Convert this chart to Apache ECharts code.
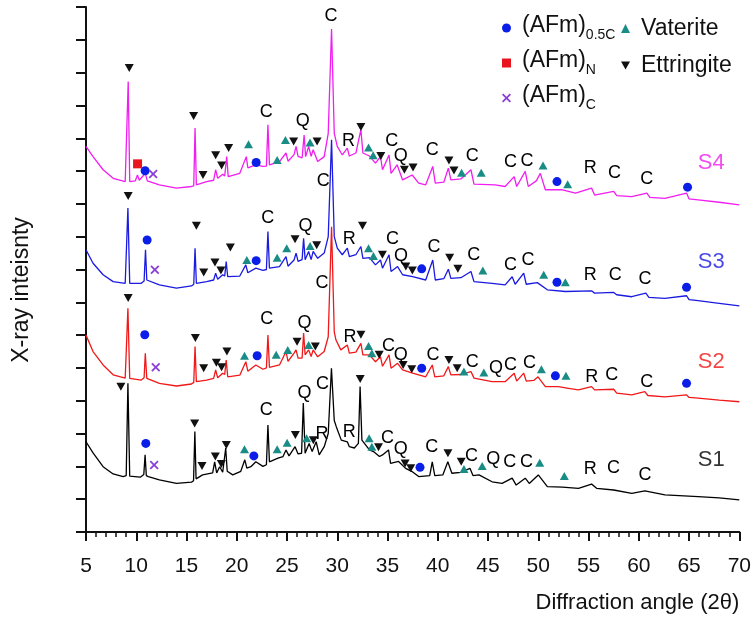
<!DOCTYPE html>
<html>
<head>
<meta charset="utf-8">
<script src="https://cdn.jsdelivr.net/npm/echarts@6.0.0/dist/echarts.min.js"></script>
<style>
  html, body { margin: 0; padding: 0; background: #fff; }
  #chart { width: 754px; height: 617px; }
</style>
</head>
<body>
<div id="chart"></div>
<script>
const FONT = '"Liberation Sans", Arial, sans-serif';

// diffraction angle axis
const angleMin = 5;
const angleMax = 70;
const angleStep = 5;
const intensityMax = 16;

// traces: [2theta, stacked intensity]
const s1Points = [[5.0,2.75],[5.7,2.41],[6.7,1.99],[7.7,1.77],[8.7,1.69],[9.0,1.72],[9.17,4.53],[9.35,1.70],[10.4,1.67],[10.75,1.75],[10.88,2.35],[11.0,1.72],[11.2,1.69],[12.3,1.59],[14.0,1.48],[15.5,1.52],[15.7,1.56],[15.83,3.06],[15.95,1.62],[16.6,1.74],[17.6,1.80],[17.8,2.14],[18.0,1.80],[18.3,1.99],[18.6,1.82],[18.9,2.56],[19.05,1.85],[19.6,1.74],[20.4,1.85],[20.8,2.2],[21.0,1.95],[21.4,1.99],[21.9,2.14],[22.6,2.0],[22.95,2.05],[23.1,3.26],[23.25,2.14],[24.1,2.25],[24.6,2.3],[24.9,2.5],[25.2,2.32],[25.8,2.6],[26.1,2.38],[26.45,2.4],[26.62,3.93],[26.8,2.4],[27.2,2.7],[27.5,2.45],[27.9,2.75],[28.2,2.35],[28.7,2.6],[29.1,3.0],[29.42,4.99],[29.7,3.4],[29.9,3.21],[30.4,2.8],[31.0,2.75],[31.2,2.6],[31.7,2.56],[32.1,2.7],[32.27,4.43],[32.45,2.8],[33.2,2.5],[33.6,2.45],[34.2,2.3],[34.5,2.35],[35.1,2.5],[35.3,2.09],[36.1,2.15],[36.8,1.94],[37.4,1.85],[38.1,1.69],[39.2,1.72],[39.45,2.14],[39.7,1.72],[40.5,1.74],[41.0,2.14],[41.4,1.79],[42.3,1.82],[43.2,1.94],[43.5,1.72],[44.1,1.74],[45.4,1.53],[46.4,1.48],[47.4,1.64],[47.8,1.43],[48.7,1.64],[49.1,1.48],[50.0,1.74],[50.9,1.38],[52.4,1.37],[54.0,1.33],[55.3,1.46],[55.8,1.33],[57.5,1.28],[59.3,1.18],[60.6,1.25],[62.6,1.13],[65.9,1.08],[68.0,1.04],[70.0,0.98]];
const s2Points = [[5.0,6.0],[5.7,5.5],[6.7,5.09],[7.7,4.79],[8.9,4.69],[9.05,4.72],[9.17,6.82],[9.35,4.68],[10.5,4.63],[10.78,4.7],[10.9,5.45],[11.05,4.68],[12.3,4.53],[14.0,4.45],[15.5,4.51],[15.72,4.56],[15.85,5.65],[15.98,4.58],[17.0,4.63],[17.7,4.68],[17.9,4.94],[18.1,4.7],[18.6,4.84],[18.8,4.8],[18.95,5.24],[19.1,4.73],[20.3,4.78],[20.9,5.19],[21.1,4.9],[21.9,5.09],[22.6,4.96],[22.95,5.0],[23.1,6.0],[23.25,5.02],[24.25,5.09],[24.9,5.5],[25.1,5.2],[25.7,5.45],[25.9,5.55],[26.1,5.3],[26.5,5.3],[26.65,6.06],[26.8,5.4],[27.15,5.55],[27.4,5.35],[27.6,5.55],[28.05,5.34],[28.7,5.5],[29.1,5.95],[29.43,9.3],[29.7,6.1],[29.87,5.85],[30.35,5.55],[31.0,5.7],[31.2,5.45],[31.85,5.48],[32.35,5.75],[32.55,5.4],[33.2,5.4],[33.8,5.19],[34.3,5.34],[34.5,5.05],[35.15,5.4],[35.35,4.99],[36.0,5.14],[36.5,4.94],[37.5,4.84],[38.8,4.73],[39.45,5.09],[39.7,4.73],[40.6,4.76],[41.05,5.04],[41.3,4.79],[42.3,4.8],[43.3,4.89],[43.6,4.69],[45.4,4.58],[46.7,4.58],[47.6,4.84],[47.85,4.6],[48.55,4.84],[48.8,4.6],[49.55,4.62],[49.97,4.73],[50.7,4.43],[52.0,4.43],[53.0,4.38],[54.0,4.33],[55.3,4.43],[55.6,4.33],[57.5,4.35],[57.8,4.23],[59.3,4.18],[60.6,4.28],[60.9,4.16],[62.6,4.12],[64.75,4.18],[65.0,4.1],[65.9,4.08],[68.0,4.02],[70.0,3.97]];
const s3Points = [[5.0,8.6],[5.7,8.19],[6.7,7.84],[7.7,7.63],[8.9,7.58],[9.05,7.6],[9.17,9.87],[9.35,7.58],[10.5,7.58],[10.78,7.65],[10.92,8.6],[11.05,7.68],[12.3,7.53],[14.0,7.43],[15.5,7.5],[15.72,7.55],[15.85,8.65],[15.98,7.58],[17.0,7.63],[17.7,7.68],[17.9,7.89],[18.1,7.7],[18.6,7.84],[18.8,7.8],[18.95,8.24],[19.1,7.78],[20.3,7.8],[20.9,8.14],[21.1,7.9],[21.9,8.04],[22.6,7.97],[22.95,8.0],[23.1,9.16],[23.25,8.04],[24.25,8.09],[24.9,8.39],[25.1,8.1],[25.7,8.29],[25.9,8.5],[26.1,8.25],[26.5,8.3],[26.65,8.95],[26.8,8.3],[27.15,8.55],[27.4,8.3],[27.6,8.55],[28.05,8.34],[28.7,8.5],[29.1,9.0],[29.43,11.95],[29.7,9.0],[30.0,8.65],[30.5,8.45],[31.0,8.65],[31.2,8.39],[31.85,8.45],[32.35,8.7],[32.55,8.34],[33.2,8.36],[33.8,8.14],[34.3,8.29],[34.5,8.04],[35.15,8.45],[35.35,7.94],[36.0,8.09],[36.5,7.84],[37.5,7.78],[38.8,7.68],[39.5,8.29],[39.75,7.68],[40.6,7.72],[41.05,8.01],[41.3,7.73],[42.3,7.75],[43.3,7.94],[43.6,7.63],[45.4,7.58],[46.7,7.53],[47.4,7.78],[47.7,7.55],[48.55,7.89],[48.8,7.55],[49.9,7.6],[50.9,7.38],[52.7,7.33],[55.3,7.35],[55.6,7.28],[57.5,7.3],[57.8,7.23],[59.3,7.17],[60.7,7.28],[61.0,7.15],[62.6,7.12],[64.75,7.2],[65.0,7.08],[65.9,7.05],[68.0,6.97],[70.0,6.89]];
const s4Points = [[5.0,11.75],[5.7,11.44],[6.7,11.04],[7.7,10.78],[8.9,10.68],[9.05,10.7],[9.2,13.73],[9.35,10.68],[9.9,10.7],[10.12,10.88],[10.3,10.72],[10.9,10.93],[11.1,10.7],[12.3,10.58],[14.0,10.48],[15.5,10.53],[15.72,10.55],[15.85,12.31],[15.98,10.58],[17.0,10.68],[17.7,10.72],[17.9,11.04],[18.1,10.78],[18.6,10.9],[18.8,10.85],[19.0,11.44],[19.15,10.83],[20.3,10.93],[20.95,11.44],[21.1,11.1],[21.9,11.19],[22.6,11.14],[22.95,11.15],[23.1,12.41],[23.25,11.19],[24.25,11.29],[24.9,11.55],[25.1,11.3],[25.7,11.5],[25.9,11.75],[26.1,11.45],[26.5,11.4],[26.7,12.1],[26.85,11.44],[27.15,11.75],[27.4,11.45],[27.6,11.65],[28.05,11.29],[28.7,11.44],[29.1,12.15],[29.43,15.33],[29.7,12.15],[30.0,11.75],[30.5,11.49],[31.0,11.7],[31.2,11.46],[31.85,11.55],[32.35,12.26],[32.55,11.55],[33.2,11.46],[33.8,11.24],[34.3,11.44],[34.5,11.04],[35.15,11.49],[35.35,10.93],[35.95,11.19],[36.5,10.73],[37.45,10.88],[38.1,10.63],[38.8,10.58],[39.5,11.14],[39.75,10.63],[40.6,10.66],[41.05,11.09],[41.3,10.73],[42.3,10.76],[43.3,11.04],[43.6,10.6],[45.7,10.58],[46.7,10.53],[47.6,10.83],[47.85,10.53],[48.7,10.99],[49.0,10.53],[49.8,10.7],[50.2,10.93],[50.7,10.43],[52.4,10.43],[53.7,10.33],[55.3,10.48],[55.6,10.27],[57.5,10.38],[57.8,10.25],[59.3,10.22],[60.8,10.33],[61.1,10.2],[62.6,10.17],[64.75,10.33],[65.0,10.15],[65.9,10.12],[68.0,10.05],[70.0,9.97]];

const sampleNames = ['S4', 'S3', 'S2', 'S1'];
const sampleLabelPos = [[67.2, 11.24], [67.2, 8.22], [67.2, 5.18], [67.2, 2.2]];

// phase markers
const ettringiteMarks = [
  [9.30,14.14],[15.71,12.68],[16.64,10.88],[17.90,11.48],[18.49,11.17],[19.19,11.70],[25.66,11.90],[27.99,11.90],[32.35,12.34],[34.33,11.46],[36.68,11.04],[37.54,11.11],[41.11,11.32],[41.61,11.02],
  [9.20,10.24],[15.98,9.33],[16.71,7.91],[17.83,8.21],[18.42,7.97],[19.36,8.67],[25.80,8.92],[27.95,8.74],[32.51,9.33],[34.49,8.45],[36.82,8.09],[37.47,7.97],[41.18,8.36],[42.0,8.02],
  [9.20,7.13],[15.88,5.91],[16.71,4.99],[17.97,5.16],[18.49,5.02],[19.02,5.50],[26.0,5.80],[27.82,5.65],[32.35,6.01],[34.17,5.40],[36.55,5.09],[37.41,4.96],[41.11,5.24],[41.93,4.99],
  [8.47,4.43],[15.81,3.31],[16.54,2.01],[17.87,2.30],[18.46,2.07],[18.96,2.65],[25.83,2.96],[27.62,2.80],[32.28,4.66],[34.10,2.58],[36.75,2.09],[37.31,1.94],[41.01,2.40],[42.33,2.14]
];
const vateriteMarks = [
  [21.17,11.82],[24.02,11.34],[24.84,11.95],[27.29,11.87],[33.11,11.72],[33.57,11.48],[42.37,10.95],[44.32,10.95],[50.47,11.17],[52.92,10.60],
  [21.0,8.29],[24.02,8.36],[24.97,8.65],[27.29,8.72],[33.11,8.65],[33.60,8.41],[44.48,7.97],[50.54,7.84],[52.69,7.61],
  [20.77,5.37],[23.92,5.40],[25.07,5.55],[27.15,5.70],[33.11,5.67],[33.44,5.45],[42.60,4.89],[44.58,4.86],[50.31,4.96],[52.75,4.76],
  [20.77,2.52],[24.02,2.52],[25.01,2.72],[26.95,2.86],[33.17,2.86],[33.44,2.60],[42.60,1.92],[44.42,2.01],[50.14,2.11],[52.59,1.71]
];
const afmHalfCMarks = [
  [10.88,11.01],[21.93,11.26],[51.86,10.68],[64.85,10.51],
  [11.08,8.90],[21.93,8.27],[38.40,8.02],[51.86,7.61],[64.75,7.46],
  [10.85,6.01],[22.03,5.37],[38.40,4.99],[51.70,4.76],[64.75,4.53],
  [10.95,2.70],[21.70,2.32],[38.23,1.97]
];
const afmNMarks = [[10.13,11.22]];
const afmCMarks = [[11.68,10.91],[11.85,7.99],[11.94,5.02],[11.78,2.04]];

// letter labels: C calcite, Q quartz, R
const phaseLetters = [
  [22.93,12.81,'C'],[26.56,12.51,'Q'],[29.38,15.71,'C'],[31.12,11.93,'R'],[35.43,11.93,'C'],[36.32,11.46,'Q'],[39.46,11.65,'C'],[43.42,11.46,'C'],[47.23,11.27,'C'],[48.88,11.30,'C'],[55.17,11.09,'R'],[57.58,10.95,'C'],[60.78,10.76,'C'],
  [23.09,9.56,'C'],[26.83,9.31,'Q'],[28.61,10.71,'C'],[31.19,8.92,'R'],[35.49,8.92,'C'],[36.35,8.41,'Q'],[39.62,8.70,'C'],[43.59,8.45,'C'],[47.23,8.14,'C'],[48.98,8.29,'C'],[55.17,7.84,'R'],[57.65,7.84,'C'],[60.62,7.70,'C'],
  [22.99,6.48,'C'],[26.73,6.36,'Q'],[28.48,7.60,'C'],[31.26,5.94,'R'],[35.09,5.67,'C'],[36.32,5.40,'Q'],[39.52,5.40,'C'],[43.42,5.19,'C'],[45.80,4.99,'Q'],[47.23,5.09,'C'],[49.12,5.16,'C'],[55.33,4.73,'R'],[57.31,4.79,'C'],[60.78,4.58,'C'],
  [22.93,3.72,'C'],[26.73,4.23,'Q'],[28.54,4.51,'C'],[28.48,2.99,'R'],[31.19,3.06,'R'],[34.99,2.86,'C'],[36.32,2.52,'Q'],[39.40,2.58,'C'],[43.36,2.32,'C'],[45.51,2.22,'Q'],[47.16,2.14,'C'],[48.82,2.14,'C'],[55.17,1.91,'R'],[57.48,1.94,'C'],[60.62,1.74,'C']
];

const traceColors = { S1: '#000000', S2: '#f01818', S3: '#1a1ae0', S4: '#f01ef0' };
const traces = { S1: s1Points, S2: s2Points, S3: s3Points, S4: s4Points };

const downTriangle = 'path://M0,0L10,0L5,9Z';
const crossMark = 'path://M0,1.4L1.4,0L5,3.6L8.6,0L10,1.4L6.4,5L10,8.6L8.6,10L5,6.4L1.4,10L0,8.6L3.6,5Z';

const chart = echarts.init(document.getElementById('chart'), null, { renderer: 'canvas' });

const lineSeries = sampleNames.map(name => ({
  name,
  type: 'line',
  data: traces[name],
  symbol: 'none',
  silent: true,
  lineStyle: { width: 1.3, color: traceColors[name] },
}));

function markSeries(name, data, symbol, size, color) {
  return {
    name,
    type: 'scatter',
    data,
    symbol,
    symbolSize: size,
    itemStyle: { color, opacity: 1 },
    silent: true,
    z: 5,
  };
}

const legendRich = {
  a: { fontFamily: FONT, fontSize: 23, color: '#111', padding: [0, 0, 5, 0] },
  s: { fontFamily: FONT, fontSize: 14, color: '#111', verticalAlign: 'bottom' },
};
const legendLabels = {
  '(AFm)0.5C': '{a|(AFm)}{s|0.5C}',
  '(AFm)N': '{a|(AFm)}{s|N}',
  '(AFm)C': '{a|(AFm)}{s|C}',
};

const option = {
  animation: false,
  backgroundColor: '#fff',
  grid: { left: 86, right: 13, top: 7, bottom: 85, containLabel: false },
  legend: [
    {
      orient: 'vertical',
      left: 497,
      top: 9,
      itemWidth: 9,
      itemHeight: 9,
      itemGap: 7,
      selectedMode: false,
      data: ['(AFm)0.5C', '(AFm)N', '(AFm)C'],
      formatter: name => legendLabels[name],
      textStyle: { fontFamily: FONT, fontSize: 23, color: '#111', padding: [0, 0, 0, 6], rich: legendRich },
    },
    {
      orient: 'vertical',
      left: 616,
      top: 12,
      itemWidth: 9,
      itemHeight: 9,
      itemGap: 14,
      selectedMode: false,
      data: ['Vaterite', 'Ettringite'],
      textStyle: { fontFamily: FONT, fontSize: 23, color: '#111', padding: [0, 0, 0, 6] },
    },
  ],
  xAxis: {
    type: 'value',
    min: angleMin,
    max: angleMax,
    interval: angleStep,
    name: 'Diffraction angle (2θ)',
    nameLocation: 'end',
    nameGap: 0,
    nameTextStyle: { fontFamily: FONT, fontSize: 22, color: '#111', align: 'right', verticalAlign: 'top', padding: [60, 0, 0, 0] },
    axisLine: { show: true, onZero: false, lineStyle: { color: '#111', width: 2 } },
    axisTick: { show: true, inside: false, length: 9, lineStyle: { color: '#111', width: 2 } },
    minorTick: { show: true, splitNumber: 5, length: 5, lineStyle: { color: '#111', width: 1.5 } },
    axisLabel: { fontFamily: FONT, fontSize: 21, color: '#111', margin: 24 },
    splitLine: { show: false },
  },
  yAxis: {
    type: 'value',
    min: 0,
    max: intensityMax,
    interval: 1,
    axisLine: { show: true, onZero: false, lineStyle: { color: '#111', width: 2 } },
    axisTick: { show: true, inside: false, length: 10, lineStyle: { color: '#111', width: 2 } },
    axisLabel: { show: false },
    splitLine: { show: false },
  },
  graphic: [
    {
      type: 'text',
      x: 22,
      y: 290,
      rotation: Math.PI / 2,
      style: {
        text: 'X-ray inteisnty',
        font: `23px ${FONT}`,
        fill: '#111',
        align: 'center',
        verticalAlign: 'middle',
        textAlign: 'center',
        textVerticalAlign: 'middle',
      },
    },
  ],
  series: [
    ...lineSeries,
    markSeries('Ettringite', ettringiteMarks, downTriangle, [9, 8], '#111'),
    markSeries('Vaterite', vateriteMarks, 'triangle', [9, 8], '#1a8c86'),
    markSeries('(AFm)0.5C', afmHalfCMarks, 'circle', 9, '#0a1ee8'),
    markSeries('(AFm)N', afmNMarks, 'rect', 9, '#e8141e'),
    markSeries('(AFm)C', afmCMarks, crossMark, 9, '#8a3fd6'),
    {
      name: 'letters',
      type: 'scatter',
      data: phaseLetters,
      symbolSize: 0,
      silent: true,
      z: 6,
      label: {
        show: true,
        position: 'inside',
        formatter: p => p.data[2],
        fontFamily: FONT,
        fontSize: 18,
        color: '#000',
        textBorderWidth: 0,
        opacity: 1,
      },
    },
    {
      name: 'samples',
      type: 'scatter',
      data: sampleLabelPos.map((pos, i) => ({
        value: pos,
        label: { color: traceColors[sampleNames[i]] },
      })),
      symbolSize: 0,
      silent: true,
      z: 6,
      label: {
        show: true,
        position: 'inside',
        formatter: p => sampleNames[p.dataIndex],
        fontFamily: FONT,
        fontSize: 22,
        textBorderWidth: 0,
      },
    },
  ],
};

chart.setOption(option);
</script>
</body>
</html>
